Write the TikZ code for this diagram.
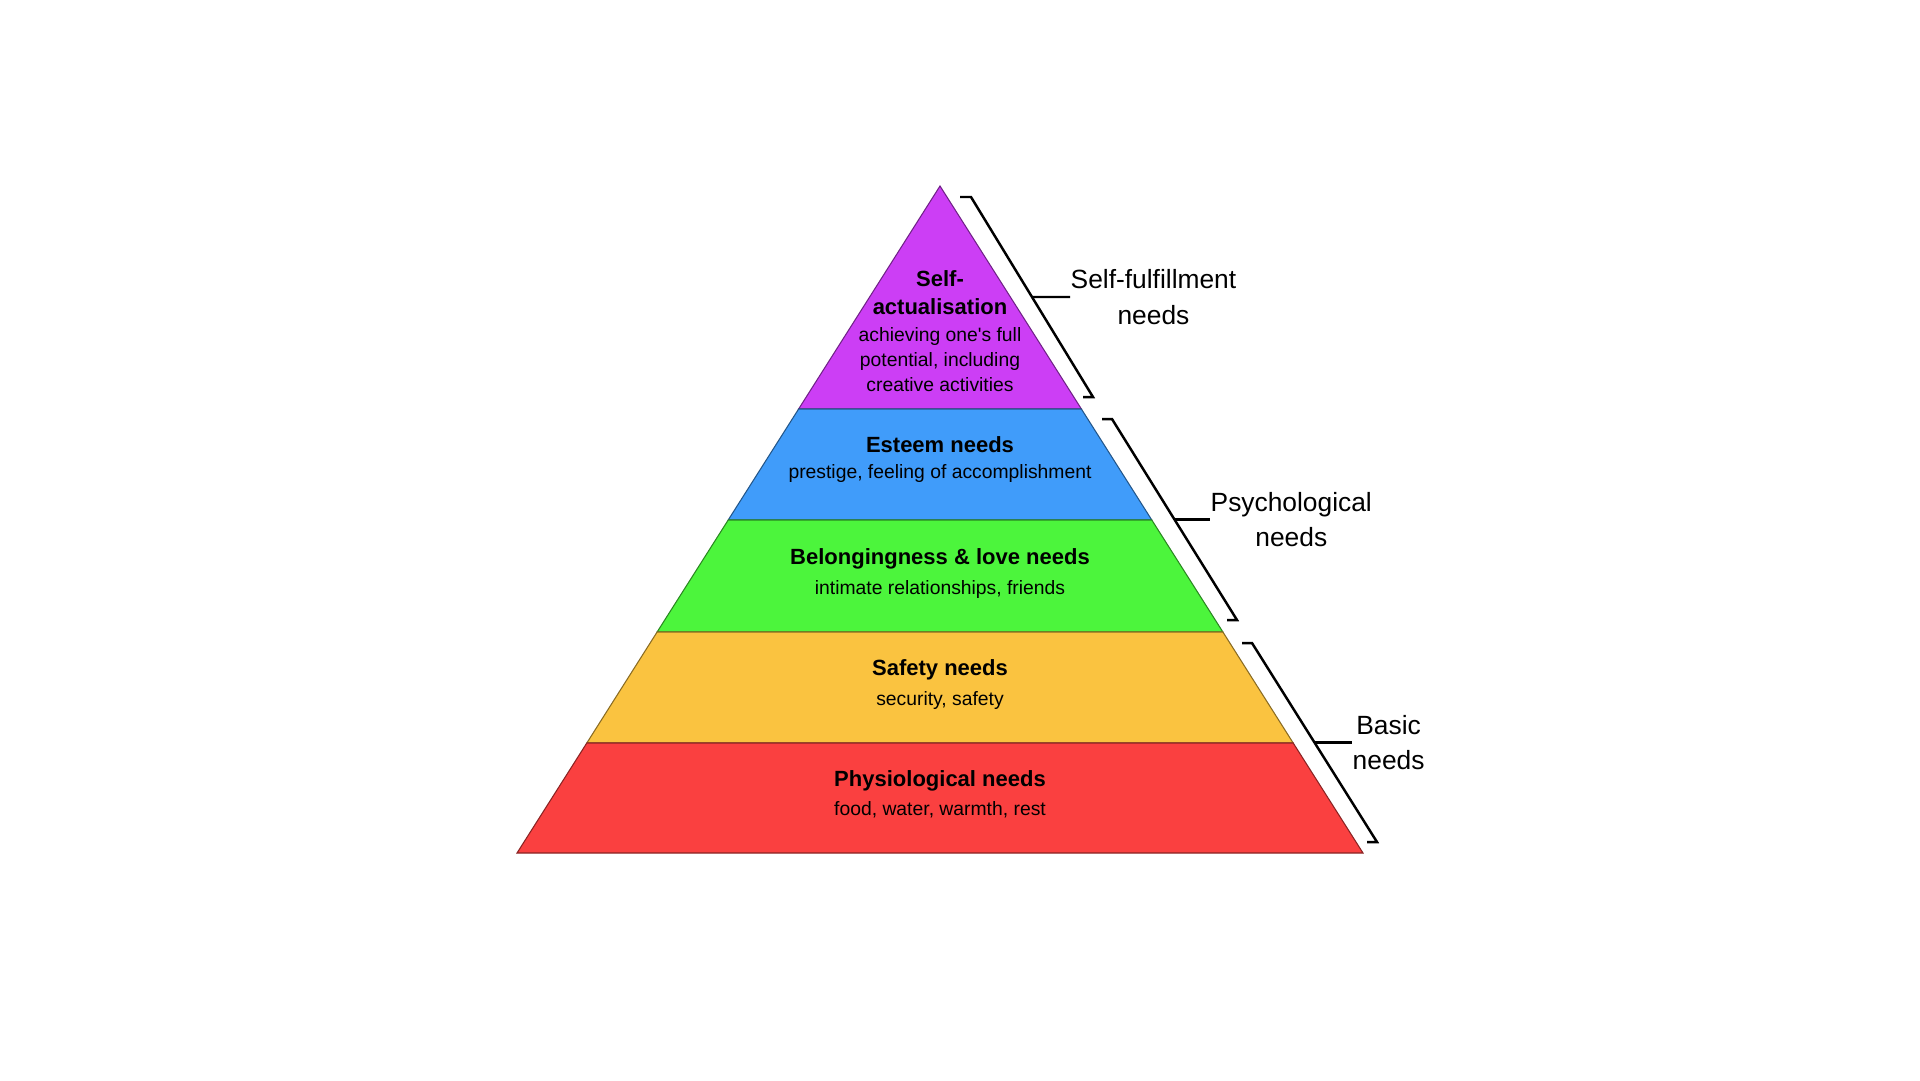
\documentclass[tikz,border=0pt]{standalone}
\usepackage{fontspec}
\setmainfont{Liberation Sans}
\usetikzlibrary{calc}

\definecolor{selfcol}{RGB}{204,62,245}
\definecolor{esteemcol}{RGB}{64,156,250}
\definecolor{lovecol}{RGB}{76,245,60}
\definecolor{safetycol}{RGB}{250,195,64}
\definecolor{physiocol}{RGB}{250,64,64}

\begin{document}
\begin{tikzpicture}[x=0.1mm, y=-0.1mm,
        layer/.style={fill=#1, draw=#1!55!black, line width=0.3pt},
        title/.style={anchor=base, inner sep=0pt, font=\fontsize{6.26}{7.9}\selectfont\bfseries},
        sub/.style={anchor=base, inner sep=0pt, font=\fontsize{5.5}{7}\selectfont},
        side/.style={anchor=west, inner sep=0pt, align=center, font=\fontsize{7.5}{10}\selectfont},
        bracket/.style={line width=0.7pt},
        tick/.style={line width=0.65pt}]
        \useasboundingbox (0,0) rectangle (1920,1080);

        % pyramid layers
        \draw[layer=selfcol] (940,186) -- (1081.4,409) -- (798.6,409) -- cycle;
        \draw[layer=esteemcol] (798.6,409) -- (1081.4,409) -- (1151.8,520) -- (728.2,520) -- cycle;
        \draw[layer=lovecol] (728.2,520) -- (1151.8,520) -- (1222.9,632) -- (657.1,632) -- cycle;
        \draw[layer=safetycol] (657.1,632) -- (1222.9,632) -- (1293.2,743) -- (586.8,743) -- cycle;
        \draw[layer=physiocol] (586.8,743) -- (1293.2,743) -- (1363,853) -- (517,853) -- cycle;

        % layer texts
        \node[title] (selfa) at (940,286) {Self-};
        \node[title] (selfb) at (940,314) {actualisation};
        \node[sub] (selfsuba) at (940,341) {achieving one\textquotesingle s full};
        \node[sub] (selfsubb) at (940,366) {potential, including};
        \node[sub] (selfsubc) at (940,391) {creative activities};

        \node[title] (esteem) at (940,452.7) {Esteem needs};
        \node[sub] (esteemsub) at (940,478.3) {prestige, feeling of accomplishment};

        \node[title] (love) at (940,564) {Belongingness \& love needs};
        \node[sub] (lovesub) at (940,594) {intimate relationships, friends};

        \node[title] (safety) at (940,675) {Safety needs};
        \node[sub] (safetysub) at (940,705) {security, safety};

        \node[title] (physio) at (940,786) {Physiological needs};
        \node[sub] (physiosub) at (940,815.7) {food, water, warmth, rest};

        % brackets
        \coordinate (b1top) at (971,197);
        \coordinate (b1bot) at (1093,397);
        \coordinate (b2top) at (1112,419);
        \coordinate (b2bot) at (1237,620);
        \coordinate (b3top) at (1252,643);
        \coordinate (b3bot) at (1377,842);

        \draw[bracket] (960,197) -- (b1top) -- (b1bot) -- (1083,397);
        \draw[bracket] (1102,419) -- (b2top) -- (b2bot) -- (1227,620);
        \draw[bracket] (1242,643) -- (b3top) -- (b3bot) -- (1367,842);

        \node[side] (fulfil) at (1070,297) {Self-fulfillment\\needs};
        \node[side] (psych) at (1210,519.5) {Psychological\\needs};
        \node[side] (basic) at (1352,742.5) {Basic\\needs};

        \draw[tick] ($(b1top)!0.5!(b1bot)$) -- (fulfil.west);
        \draw[tick] ($(b2top)!0.5!(b2bot)$) -- (psych.west);
        \draw[tick] ($(b3top)!0.5!(b3bot)$) -- (basic.west);
    \end{tikzpicture}
\end{document}
